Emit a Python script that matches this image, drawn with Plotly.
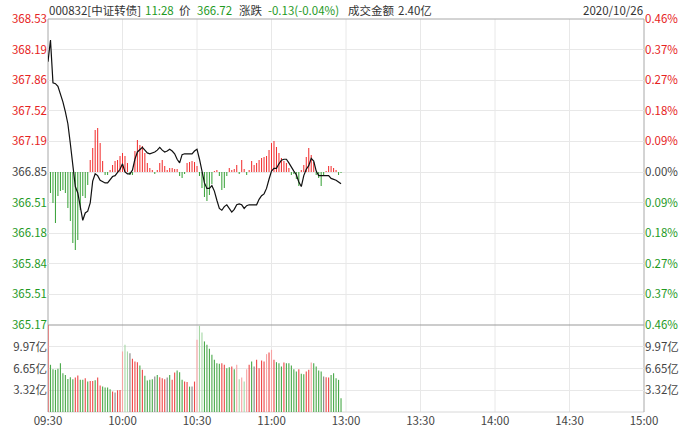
import plotly.graph_objects as go

# ---------------- data ----------------
minutes = list(range(119))  # 09:30 .. 11:28
base_price = 366.85

price = [368.06, 368.30, 367.83, 367.82, 367.79, 367.71, 367.62, 367.51, 367.38, 367.16,
         366.90, 366.69, 366.62, 366.48, 366.32, 366.40, 366.42, 366.51, 366.75, 366.83,
         366.81, 366.76, 366.74, 366.73, 366.73, 366.77, 366.80, 366.81, 366.84, 366.88,
         366.94, 366.85, 366.83, 366.83, 366.87, 366.99, 367.07, 367.10, 367.12, 367.09,
         367.06, 367.05, 367.06, 367.07, 367.09, 367.12, 367.09, 367.07, 367.08, 367.10,
         367.08, 367.05, 366.99, 366.95, 367.04, 367.05, 367.05, 367.05, 367.05, 367.08,
         367.10, 366.99, 366.84, 366.73, 366.67, 366.67, 366.70, 366.64, 366.54, 366.45,
         366.43, 366.47, 366.49, 366.45, 366.41, 366.44, 366.49, 366.50, 366.49, 366.45,
         366.48, 366.49, 366.49, 366.49, 366.49, 366.55, 366.59, 366.61, 366.67, 366.77,
         366.86, 366.89, 366.89, 366.94, 366.98, 366.99, 366.99, 366.95, 366.90, 366.86,
         366.82, 366.74, 366.69, 366.81, 366.88, 366.92, 367.00, 366.97, 366.86, 366.81,
         366.81, 366.81, 366.81, 366.81, 366.78, 366.77, 366.76, 366.74, 366.72]

# red/green strength bars, measured in price units from the base price
strength = [0, -0.231, -0.340, -0.560, -0.264, -0.209, -0.198, -0.231, -0.395, -0.538,
            -0.780, -0.856, -0.747, -0.417, -0.264, -0.285, -0.143, 0.132, 0.264, 0.461,
            0.483, 0.318, 0.121, -0.033, -0.033, 0.022, 0.077, 0.121, 0.132, 0.176,
            0.209, 0.176, 0.099, -0.033, -0.033, 0.231, 0.351, 0.296, 0.285, 0.209,
            0.099, 0.044, 0.022, -0.022, 0.022, 0.099, 0.132, 0.066, 0.022, 0.044,
            0.044, 0.033, 0.033, -0.044, -0.066, -0.022, 0.099, 0.110, 0.121, 0.110,
            0.066, -0.044, -0.176, -0.275, -0.318, -0.253, -0.132, 0.011, 0.022, -0.044,
            -0.198, -0.176, -0.044, 0.044, 0.022, 0.033, 0.077, -0.022, 0.132, 0.033,
            -0.033, 0.022, 0.121, 0.077, 0.099, 0.132, 0.154, 0.165, 0.176, 0.242,
            0.318, 0.340, 0.275, 0.209, 0.154, 0.121, 0.099, 0.044, -0.033, -0.022,
            -0.077, -0.154, 0.022, 0.077, 0.165, 0.264, 0.187, 0.110, -0.033, -0.066,
            -0.154, -0.033, 0.011, 0.066, 0.066, 0.044, 0.022, -0.033, -0.011]

# per-minute turnover (亿)
volume = [20.0, 7.21, 6.54, 6.44, 6.59, 7.46, 5.93, 5.67, 5.06, 5.31,
          5.01, 5.26, 5.57, 4.91, 4.91, 5.16, 4.65, 4.75, 4.75, 4.85,
          5.26, 4.04, 3.88, 3.73, 3.73, 3.47, 3.12, 2.96, 3.32, 3.37,
          9.25, 10.27, 9.25, 8.99, 8.12, 7.72, 7.61, 7.10, 6.44, 5.52,
          4.80, 4.91, 5.01, 5.42, 5.67, 5.31, 5.16, 5.01, 5.26, 5.67,
          4.91, 6.03, 6.34, 6.08, 4.91, 4.65, 4.60, 3.88, 3.88, 4.65,
          11.04, 13.18, 12.16, 10.78, 10.27, 9.66, 8.74, 7.97, 7.46, 7.36,
          7.46, 7.21, 6.69, 6.85, 6.95, 6.54, 7.21, 5.01, 5.26, 4.65,
          6.54, 7.21, 7.72, 6.95, 7.97, 6.69, 7.87, 7.72, 8.84, 9.10,
          9.50, 7.97, 7.61, 7.46, 6.95, 7.56, 7.46, 7.46, 7.10, 6.54,
          6.18, 6.54, 5.83, 5.77, 6.18, 6.44, 7.56, 7.46, 6.95, 6.34,
          6.18, 5.42, 5.31, 5.26, 5.67, 5.93, 5.16, 4.91, 2.10]

# r/R = up (dark/light), g/G = down (dark/light), n = flat
vol_colors = ("r" + "gggggggggg" + "rrggrgrrgr" + "rggggrnrrR" + "GGnrrrgrgg" +
              "ggngrrrngr" + "rgggrrgnrR" + "GGgggggggr" + "rggrgRGRGR" +
              "rgnrrrrRrR" + "rgggrggggg" + "rggrrRgggg" + "nrrggggg")

price_ticks = ["365.17", "365.51", "365.84", "366.18", "366.51", "366.85",
               "367.19", "367.52", "367.86", "368.19", "368.53"]
pct_ticks = ["0.46%", "0.37%", "0.27%", "0.18%", "0.09%", "0.00%",
             "0.09%", "0.18%", "0.27%", "0.37%", "0.46%"]
vol_ticks = [3.32, 6.65, 9.97]
vol_tick_labels = ["3.32亿", "6.65亿", "9.97亿"]
vol_top = 13.29
time_ticks = [0, 30, 60, 90, 120, 150, 180, 210, 240]
time_labels = ["09:30", "10:00", "10:30", "11:00", "13:00", "13:30", "14:00", "14:30", "15:00"]

# ---------------- style ----------------
RED = "#e62222"
GREEN = "#1f9a1f"
GRAY_TXT = "#444444"
GRID = "#e8e8e8"
BORDER = "#a8a8a8"
cmap = {"r": "#ee4a4a", "R": "#f6a4a4", "g": "#4caa4c", "G": "#a6d8a6", "n": "#858585"}
FONT = "Microsoft YaHei, Noto Sans CJK SC, sans-serif"

W, H = 693, 429
ML, MR, MT, MB = 48, 49, 19, 17
plot_h = H - MT - MB
vol_frac = 87 / plot_h

mid = len(price_ticks) // 2


def colored(labels):
    out = []
    for i, t in enumerate(labels):
        c = RED if i > mid else (GREEN if i < mid else GRAY_TXT)
        out.append('<span style="color:%s">%s</span>' % (c, t))
    return out


pvals = [float(t) for t in price_ticks]
prange = [pvals[0] - 1e-6, pvals[-1] + 1e-6]

fig = go.Figure()

# strength bars on the main price axis
fig.add_trace(go.Bar(x=minutes, y=strength, base=base_price,
                     marker=dict(color=["#f23030" if s > 0 else "#3aa33a" for s in strength],
                                 line=dict(width=0)),
                     width=0.42, xaxis="x", yaxis="y", hoverinfo="skip"))
# price line on the overlaid percent axis (same range)
fig.add_trace(go.Scatter(x=minutes, y=price, mode="lines",
                         line=dict(color="#111111", width=1.2),
                         xaxis="x", yaxis="y2", hoverinfo="skip"))

# volume: up/flat bars on left volume axis, down bars on right (same scale)
up_idx = [i for i, c in enumerate(vol_colors) if c in "rRn"]
dn_idx = [i for i, c in enumerate(vol_colors) if c in "gG"]
fig.add_trace(go.Bar(x=[minutes[i] for i in up_idx], y=[volume[i] for i in up_idx],
                     marker=dict(color=[cmap[vol_colors[i]] for i in up_idx], line=dict(width=0)),
                     width=0.45, xaxis="x", yaxis="y3", hoverinfo="skip"))
fig.add_trace(go.Bar(x=[minutes[i] for i in dn_idx], y=[volume[i] for i in dn_idx],
                     marker=dict(color=[cmap[vol_colors[i]] for i in dn_idx], line=dict(width=0)),
                     width=0.45, xaxis="x", yaxis="y4", hoverinfo="skip"))

axis_font = dict(family=FONT, size=11.5, color=GRAY_TXT)

fig.update_layout(
    width=W, height=H, autosize=False,
    margin=dict(l=ML, r=MR, t=MT, b=MB, pad=0),
    paper_bgcolor="white", plot_bgcolor="white",
    showlegend=False, barmode="overlay",
    font=dict(family=FONT, size=11, color=GRAY_TXT),
    xaxis=dict(domain=[0, 1], range=[0, 240], anchor="y3",
               tickmode="array", tickvals=time_ticks, ticktext=time_labels,
               showgrid=False, zeroline=False, showline=False,
               ticks="", tickfont=axis_font, automargin=False),
    yaxis=dict(domain=[vol_frac, 1], range=prange, anchor="x", side="left",
               tickmode="array", tickvals=pvals, ticktext=colored(price_ticks),
               showgrid=True, gridcolor=GRID, zeroline=False, showline=False,
               ticks="", tickfont=axis_font, automargin=False),
    yaxis2=dict(overlaying="y", side="right", range=prange, anchor="x",
                tickmode="array", tickvals=pvals, ticktext=colored(pct_ticks),
                showgrid=False, zeroline=False, showline=False, ticks="",
                tickfont=axis_font, automargin=False),
    yaxis3=dict(domain=[0, vol_frac], range=[0, vol_top], anchor="x", side="left",
                tickmode="array", tickvals=vol_ticks, ticktext=vol_tick_labels,
                showgrid=True, gridcolor=GRID, zeroline=False, showline=False,
                ticks="", tickfont=axis_font, automargin=False),
    yaxis4=dict(overlaying="y3", side="right", range=[0, vol_top], anchor="x",
                tickmode="array", tickvals=vol_ticks, ticktext=vol_tick_labels,
                showgrid=False, zeroline=False, showline=False, ticks="",
                tickfont=axis_font, automargin=False),
)

# vertical time grid (both panels) and frame lines
shapes = []
for t in time_ticks[1:-1]:
    shapes.append(dict(type="line", xref="x", yref="paper", x0=t, x1=t, y0=0, y1=1,
                       line=dict(color=GRID, width=1)))
shapes += [
    dict(type="line", xref="paper", yref="paper", x0=0, x1=1, y0=1, y1=1, line=dict(color=BORDER, width=1)),
    dict(type="line", xref="paper", yref="paper", x0=0, x1=1, y0=vol_frac, y1=vol_frac, line=dict(color="#999999", width=1)),
    dict(type="line", xref="paper", yref="paper", x0=0, x1=1, y0=0, y1=0, line=dict(color="#d8d8d8", width=1)),
    dict(type="line", xref="paper", yref="paper", x0=0, x1=0, y0=0, y1=1, line=dict(color=BORDER, width=1)),
    dict(type="line", xref="paper", yref="paper", x0=1, x1=1, y0=0, y1=1, line=dict(color=BORDER, width=1)),
]
for s in shapes:
    s["layer"] = "below"
fig.update_layout(shapes=shapes)

# header
plot_w = W - ML - MR
hy = 1 + 9.5 / plot_h
header = [
    ("000832[中证转债]", 48, "#333333"),
    ("11:28", 144, GREEN),
    ("价", 178, "#333333"),
    ("366.72", 196, GREEN),
    ("涨跌", 238, "#333333"),
    ("-0.13(-0.04%)", 267, GREEN),
    ("成交金额", 347, "#333333"),
    ("2.40亿", 397, "#333333"),
]
for txt, px, col in header:
    fig.add_annotation(text=txt, xref="paper", yref="paper", x=(px - ML) / plot_w, y=hy,
                       xanchor="left", yanchor="middle", showarrow=False, borderpad=0,
                       font=dict(family=FONT, size=11.5, color=col))
fig.add_annotation(text="2020/10/26", xref="paper", yref="paper", x=(644 - ML) / plot_w, y=hy,
                   xanchor="right", yanchor="middle", showarrow=False, borderpad=0,
                   font=dict(family=FONT, size=11.5, color="#333333"))

fig.write_html("out.html", config={"displayModeBar": False, "staticPlot": True},
               post_script="document.body.style.margin='0px';")
